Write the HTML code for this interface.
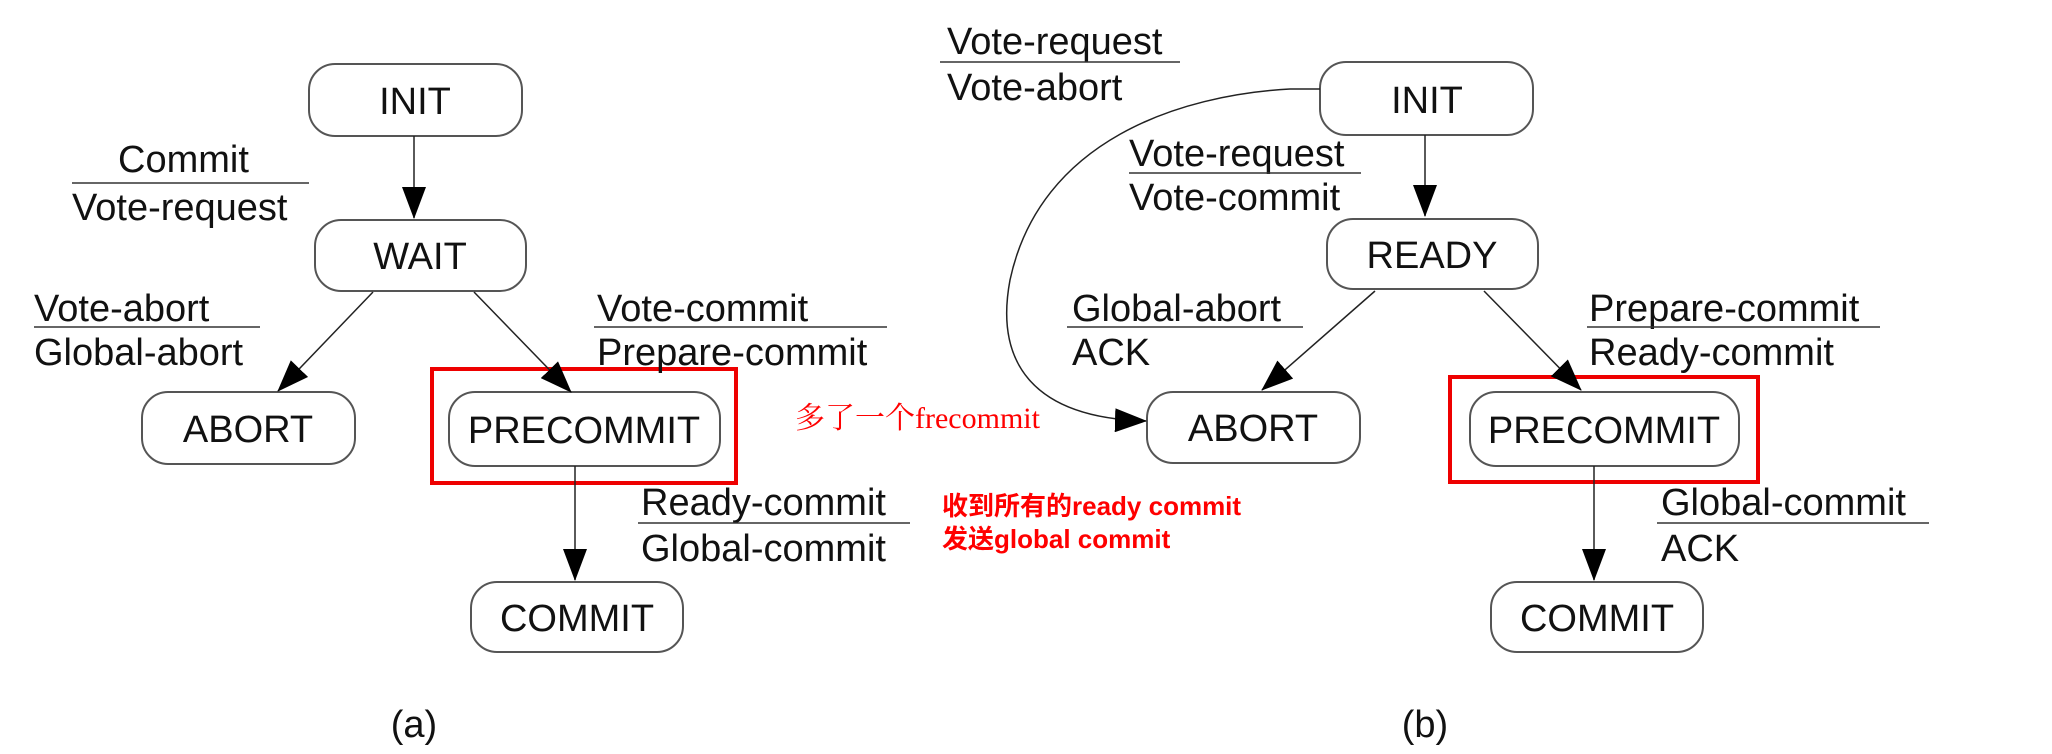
<!DOCTYPE html>
<html><head><meta charset="utf-8"><style>
html,body{margin:0;padding:0;background:#fff;}
svg{display:block}
.t{font-family:"Liberation Sans",Arial,sans-serif;font-size:38px;fill:#111}
.n{font-family:"Liberation Sans",Arial,sans-serif;font-size:38px;fill:#111;text-anchor:middle}
</style></head><body>
<svg width="2052" height="754" viewBox="0 0 2052 754" xmlns="http://www.w3.org/2000/svg">
<defs><marker id="ah" markerWidth="32" markerHeight="24" refX="31" refY="12" orient="auto" markerUnits="userSpaceOnUse" viewBox="0 0 32 24"><path d="M0,0 L32,12 L0,24 z" fill="#000"/></marker></defs>
<g fill="none" stroke="#555" stroke-width="2">
<rect x="309" y="64" width="213" height="72" rx="26"/>
<rect x="315" y="220" width="211" height="71" rx="26"/>
<rect x="142" y="392" width="213" height="72" rx="26"/>
<rect x="449" y="392" width="271" height="74" rx="26"/>
<rect x="471" y="582" width="212" height="70" rx="26"/>
<rect x="1320" y="62" width="213" height="73" rx="26"/>
<rect x="1327" y="219" width="211" height="70" rx="26"/>
<rect x="1147" y="392" width="213" height="71" rx="26"/>
<rect x="1470" y="392" width="269" height="74" rx="26"/>
<rect x="1491" y="582" width="212" height="70" rx="26"/>
</g>
<g fill="none" stroke="#e00" stroke-width="4">
<rect x="432" y="369" width="304" height="114"/>
<rect x="1450" y="377" width="308" height="105"/>
</g>
<g stroke="#222" stroke-width="1.5" fill="none" marker-end="url(#ah)">
<line x1="414" y1="136" x2="414" y2="218"/>
<line x1="373" y1="292" x2="278" y2="391"/>
<line x1="474" y1="292" x2="571" y2="392"/>
<line x1="575" y1="466" x2="575" y2="580"/>
<line x1="1425" y1="135" x2="1425" y2="216"/>
<line x1="1375" y1="291" x2="1262" y2="390"/>
<line x1="1484" y1="291" x2="1581" y2="390"/>
<line x1="1594" y1="466" x2="1594" y2="580"/>
<path d="M1320,89 L1290,89 C1180,95 1040,140 1010,280 C995,360 1030,418 1146,421"/>
</g>
<g class="n">
<text x="415" y="114">INIT</text>
<text x="420" y="269">WAIT</text>
<text x="248" y="442">ABORT</text>
<text x="584" y="443">PRECOMMIT</text>
<text x="577" y="631">COMMIT</text>
<text x="1427" y="113">INIT</text>
<text x="1432" y="268">READY</text>
<text x="1253" y="441">ABORT</text>
<text x="1604" y="443">PRECOMMIT</text>
<text x="1597" y="631">COMMIT</text>
<text x="414" y="737">(a)</text>
<text x="1425" y="737">(b)</text>
</g>
<g class="t">
<text x="118" y="172">Commit</text>
<text x="72" y="220">Vote-request</text>
<text x="34" y="321">Vote-abort</text>
<text x="34" y="365">Global-abort</text>
<text x="597" y="321">Vote-commit</text>
<text x="597" y="365">Prepare-commit</text>
<text x="641" y="515">Ready-commit</text>
<text x="641" y="561">Global-commit</text>
<text x="947" y="54">Vote-request</text>
<text x="947" y="100">Vote-abort</text>
<text x="1129" y="166">Vote-request</text>
<text x="1129" y="210">Vote-commit</text>
<text x="1072" y="321">Global-abort</text>
<text x="1072" y="365">ACK</text>
<text x="1589" y="321">Prepare-commit</text>
<text x="1589" y="365">Ready-commit</text>
<text x="1661" y="515">Global-commit</text>
<text x="1661" y="561">ACK</text>
</g>
<g stroke="#333" stroke-width="1.5">
<line x1="72" y1="183" x2="309" y2="183"/>
<line x1="34" y1="327" x2="260" y2="327"/>
<line x1="594" y1="327" x2="887" y2="327"/>
<line x1="638" y1="523" x2="910" y2="523"/>
<line x1="940" y1="62" x2="1180" y2="62"/>
<line x1="1129" y1="173" x2="1361" y2="173"/>
<line x1="1067" y1="327" x2="1303" y2="327"/>
<line x1="1587" y1="327" x2="1880" y2="327"/>
<line x1="1657" y1="523" x2="1929" y2="523"/>
</g>
<text x="795" y="428" style="font-family:'Liberation Serif','Noto Serif CJK SC',serif;font-size:30px;fill:#f00">多了一个frecommit</text>
<text x="942" y="515" style="font-family:'Liberation Sans','Noto Sans CJK SC',sans-serif;font-size:26px;font-weight:bold;fill:#f00">收到所有的ready commit</text>
<text x="942" y="548" style="font-family:'Liberation Sans','Noto Sans CJK SC',sans-serif;font-size:26px;font-weight:bold;fill:#f00">发送global commit</text>
</svg>
</body></html>
